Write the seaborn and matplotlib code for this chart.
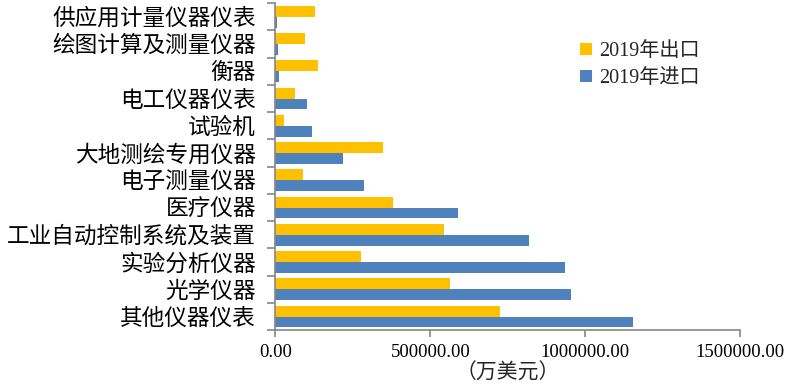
import numpy as np
import pandas as pd
import seaborn as sns
import matplotlib.pyplot as plt
from matplotlib.lines import Line2D
from matplotlib.ticker import FuncFormatter

# categories top to bottom
categories = ['供应用计量仪器仪表', '绘图计算及测量仪器', '衡器', '电工仪器仪表', '试验机',
              '大地测绘专用仪器', '电子测量仪器', '医疗仪器', '工业自动控制系统及装置',
              '实验分析仪器', '光学仪器', '其他仪器仪表']
export_2019 = [126600, 95300, 138400, 64000, 26400, 347400, 89900,
               379800, 545700, 276000, 564000, 725600]
import_2019 = [4000, 9000, 12300, 101800, 118000, 218200, 287000,
               589800, 818000, 933500, 955000, 1154500]
series = ['2019年出口', '2019年进口']
colors = ['#FFC000', '#4F81BD']
x_ticks = [0, 500000, 1000000, 1500000]

df = pd.DataFrame({'类别': categories, series[0]: export_2019, series[1]: import_2019})
df = df.melt(id_vars='类别', var_name='系列', value_name='金额')

sns.set_theme(style='white')
plt.rcParams['font.family'] = ['Liberation Serif', 'Noto Sans CJK SC']
axis_gray = '#868686'

fig = plt.figure(figsize=(7.89, 3.88), dpi=100)
ax = fig.add_axes([0.349, 0.149, 0.589, 0.843])

sns.barplot(data=df, y='类别', x='金额', hue='系列', hue_order=series,
            order=categories, palette=colors, orient='h', saturation=1,
            width=0.8, linewidth=0, errorbar=None, legend=False, ax=ax)

ax.set_xlim(0, 1500000)
ax.set_ylim(len(categories) - 0.5, -0.5)
ax.set_xticks(x_ticks)
ax.xaxis.set_major_formatter(FuncFormatter(lambda v, p: f'{v:.2f}'))

for side in ['top', 'right']:
    ax.spines[side].set_visible(False)
for side in ['left', 'bottom']:
    ax.spines[side].set_color(axis_gray)
    ax.spines[side].set_linewidth(1.2)

# Excel style ticks between the categories
ax.set_yticks(np.arange(-0.5, len(categories), 1), minor=True)
ax.tick_params(axis='y', which='major', length=0, pad=14, labelsize=16.3, colors='black')
ax.tick_params(axis='y', which='minor', length=6, width=1.2, color=axis_gray, left=True)
ax.tick_params(axis='x', which='major', length=5, width=1.2, color=axis_gray,
               bottom=True, direction='out', pad=5, labelsize=13.5, labelcolor='black')

ax.set_ylabel('')
ax.set_xlabel('（万美元）', fontsize=15, labelpad=2)

handles = [Line2D([], [], marker='s', linestyle='none', markersize=8.5,
                  markerfacecolor=c, markeredgewidth=0) for c in colors]
ax.legend(handles, series, loc='upper left', bbox_to_anchor=(579 / 789, 1 - 42 / 388),
          bbox_transform=fig.transFigure, frameon=False, fontsize=14.5,
          handlelength=0.7, handletextpad=0.3, labelspacing=0.4,
          borderpad=0, borderaxespad=0)

fig.savefig('out.png', dpi=100)
